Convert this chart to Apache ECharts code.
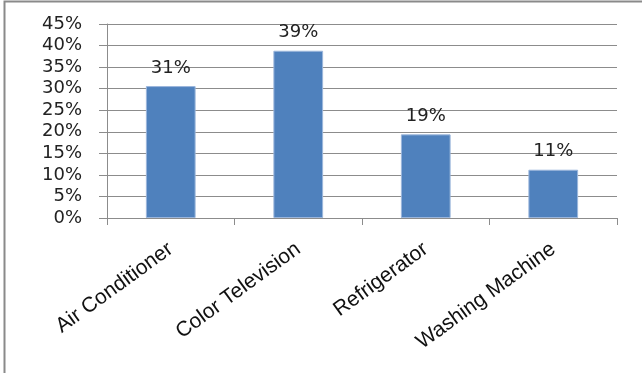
<!DOCTYPE html>
<html>
<head>
<meta charset="utf-8">
<script src="https://cdn.jsdelivr.net/npm/echarts@6/dist/echarts.min.js"></script>
<style>
  html, body { margin: 0; padding: 0; background: #fff; }
  #chart { width: 642px; height: 373px; }
</style>
</head>
<body>
<div id="chart"></div>
<script>
// Share of households owning each appliance (percent)
const categories = ['Air Conditioner', 'Color Television', 'Refrigerator', 'Washing Machine'];
const shares = [30.6, 38.8, 19.4, 11.2];
const yTicks = [0, 5, 10, 15, 20, 25, 30, 35, 40, 45];

const chart = echarts.init(document.getElementById('chart'), null, { renderer: 'canvas' });

const gridLeft = 107, gridRight = 25, gridTop = 24, gridBottom = 155;

chart.setOption({
  animation: false,
  backgroundColor: '#ffffff',
  graphic: [{
    type: 'rect',
    shape: { x: 4.5, y: 1.5, width: 700, height: 400 },
    style: { fill: 'none', stroke: '#8a8a8a', lineWidth: 2 },
    silent: true
  }],
  grid: { left: gridLeft, right: gridRight, top: gridTop, bottom: gridBottom, containLabel: false },
  xAxis: {
    type: 'category',
    data: categories,
    boundaryGap: true,
    axisLine: { show: true, lineStyle: { color: '#8c8c8c', width: 1 } },
    axisTick: { show: true, alignWithLabel: false, length: 7, lineStyle: { color: '#8c8c8c' } },
    axisLabel: {
      rotate: 36,
      margin: 29,
      interval: 0,
      color: '#111',
      fontFamily: 'Liberation Sans',
      fontSize: 21
    }
  },
  yAxis: {
    type: 'value',
    min: yTicks[0],
    max: yTicks[yTicks.length - 1],
    interval: yTicks[1] - yTicks[0],
    axisLine: { show: true, lineStyle: { color: '#8c8c8c', width: 1 } },
    axisTick: { show: true, inside: false, length: 8, lineStyle: { color: '#8c8c8c' } },
    splitLine: { show: true, lineStyle: { color: '#8c8c8c', width: 1 } },
    axisLabel: {
      margin: 25,
      color: '#222',
      fontFamily: 'DejaVu Sans',
      fontSize: 18,
      formatter: v => v + '%'
    }
  },
  series: [{
    type: 'bar',
    data: shares,
    barWidth: '39%',
    itemStyle: { color: '#4f81bd', borderColor: '#9bb6dc', borderWidth: 1 },
    label: {
      show: true,
      position: 'top',
      distance: 9,
      color: '#222',
      fontFamily: 'DejaVu Sans',
      fontSize: 18,
      formatter: p => Math.round(p.value) + '%'
    }
  }]
});
</script>
</body>
</html>
